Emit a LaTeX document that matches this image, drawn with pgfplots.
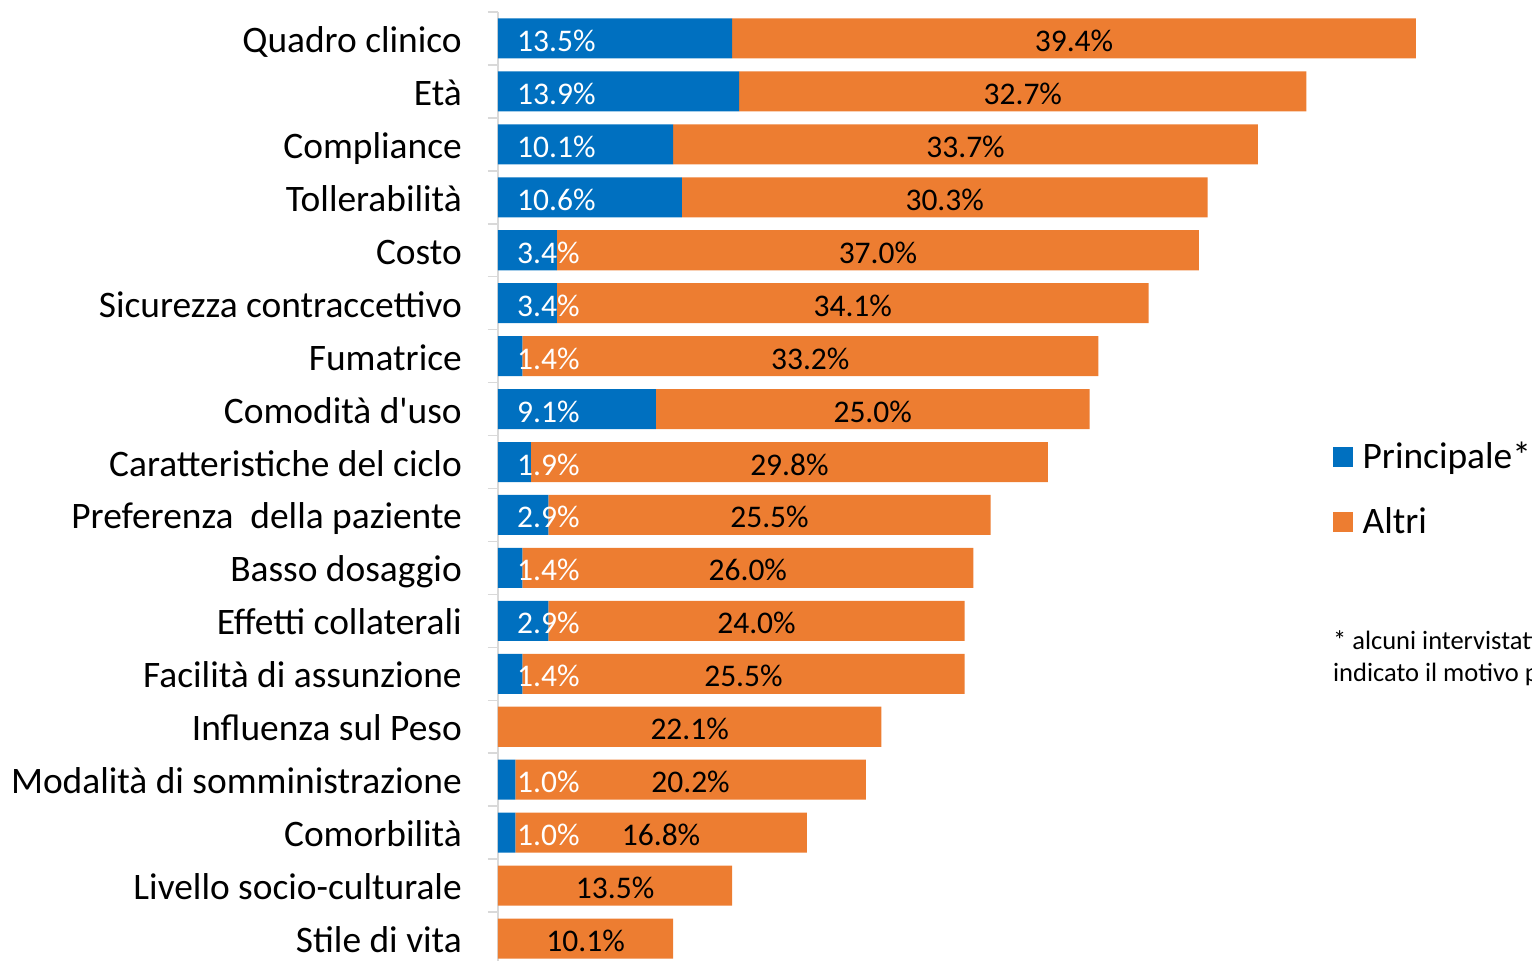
\documentclass[border=0pt]{standalone}
\usepackage{fontspec}
\setmainfont{Carlito}
\usepackage{pgfplots}
\usepackage{pgfplotstable}
\pgfplotsset{compat=1.18}

\definecolor{cblue}{HTML}{0070C0}
\definecolor{corange}{HTML}{ED7D31}
\definecolor{axgray}{HTML}{D9D9D9}

\newcommand{\catfont}{\fontsize{37.4}{45}\selectfont}
\newcommand{\valfont}{\fontsize{31.5}{38}\selectfont}
\newcommand{\notefont}{\fontsize{26.5}{32}\selectfont}

% principale / altri, one row per motivo
\pgfplotstableread[col sep=comma]{
idx,p,a,plab,alab,cat
0,13.5,39.4,13.5\%,39.4\%,Quadro clinico
1,13.9,32.7,13.9\%,32.7\%,Età
2,10.1,33.7,10.1\%,33.7\%,Compliance
3,10.6,30.3,10.6\%,30.3\%,Tollerabilità
4,3.4,37.0,3.4\%,37.0\%,Costo
5,3.4,34.1,3.4\%,34.1\%,Sicurezza contraccettivo
6,1.4,33.2,1.4\%,33.2\%,Fumatrice
7,9.1,25.0,9.1\%,25.0\%,Comodità d\textquotesingle uso
8,1.9,29.8,1.9\%,29.8\%,Caratteristiche del ciclo
9,2.9,25.5,2.9\%,25.5\%,Preferenza\ \ della paziente
10,1.4,26.0,1.4\%,26.0\%,Basso dosaggio
11,2.9,24.0,2.9\%,24.0\%,Effetti collaterali
12,1.4,25.5,1.4\%,25.5\%,Facilità di assunzione
13,0,22.1,{},22.1\%,Influenza sul Peso
14,1.0,20.2,1.0\%,20.2\%,Modalità di somministrazione
15,1.0,16.8,1.0\%,16.8\%,Comorbilità
16,0,13.5,{},13.5\%,Livello socio-culturale
17,0,10.1,{},10.1\%,Stile di vita
}\data

\begin{document}
\begin{tikzpicture}
\begin{axis}[
  at={(0,0)}, anchor=south west,
  scale only axis,
  width=1041pt, height=953pt,
  xbar stacked,
  bar width=0.756,
  xmin=0, xmax=60,
  ymin=-0.5, ymax=17.5,
  y dir=reverse,
  axis x line=none,
  axis y line*=left,
  y axis line style={draw=axgray, line width=1.5pt, -},
  ytick={0,...,17},
  yticklabels from table={\data}{cat},
  major tick length=0pt,
  minor ytick={-0.5,0.5,...,17.5},
  minor tick length=10pt,
  tick align=outside,
  ytick pos=left,
  minor tick style={draw=axgray, line width=1.5pt},
  y tick label style={font=\catfont, anchor=base east, inner sep=0pt,
    xshift=-36pt, yshift=-14pt},
  clip=false,
  legend style={at={(axis description cs:0.8016,0.548)}, anchor=north west,
    draw=none, fill=none, font=\catfont, inner sep=0pt,
    row sep=31pt, legend cell align=left,
    nodes={inner sep=0pt, text height=26pt, text depth=8pt}},
]
% stacked nodes near coords sit at the middle of their own segment
\addplot+[fill=cblue, draw=none,
  legend image code/.code={\fill[cblue] (0pt,-7pt) rectangle (20pt,13pt);},
  nodes near coords, point meta=explicit symbolic,
  visualization depends on={\thisrow{p} \as \pv},
  every node near coord/.style={anchor=base west, text=white, font=\valfont,
    inner sep=0pt, shift={(axis direction cs:-\pv/2,0)}, xshift=19pt, yshift=-13pt}]
  table[x=p, y=idx, meta=plab] {\data};
\addlegendentry{\hspace{10pt}Principale*}
\addplot+[fill=corange, draw=none,
  legend image code/.code={\fill[corange] (0pt,-7pt) rectangle (20pt,13pt);},
  nodes near coords, point meta=explicit symbolic,
  every node near coord/.style={anchor=base, text=black, font=\valfont,
    inner sep=0pt, yshift=-13pt}]
  table[x=a, y=idx, meta=alab] {\data};
\addlegendentry{\hspace{10pt}Altri}
\node[anchor=base west, align=left, inner sep=0pt, font=\notefont]
  at (axis description cs:0.8021,0.297)
  {* alcuni intervistati non hanno\\indicato il motivo principale};
\end{axis}
\pgfresetboundingbox
\useasboundingbox (-498pt,4pt) rectangle (1034pt,965pt);
\end{tikzpicture}
\end{document}
